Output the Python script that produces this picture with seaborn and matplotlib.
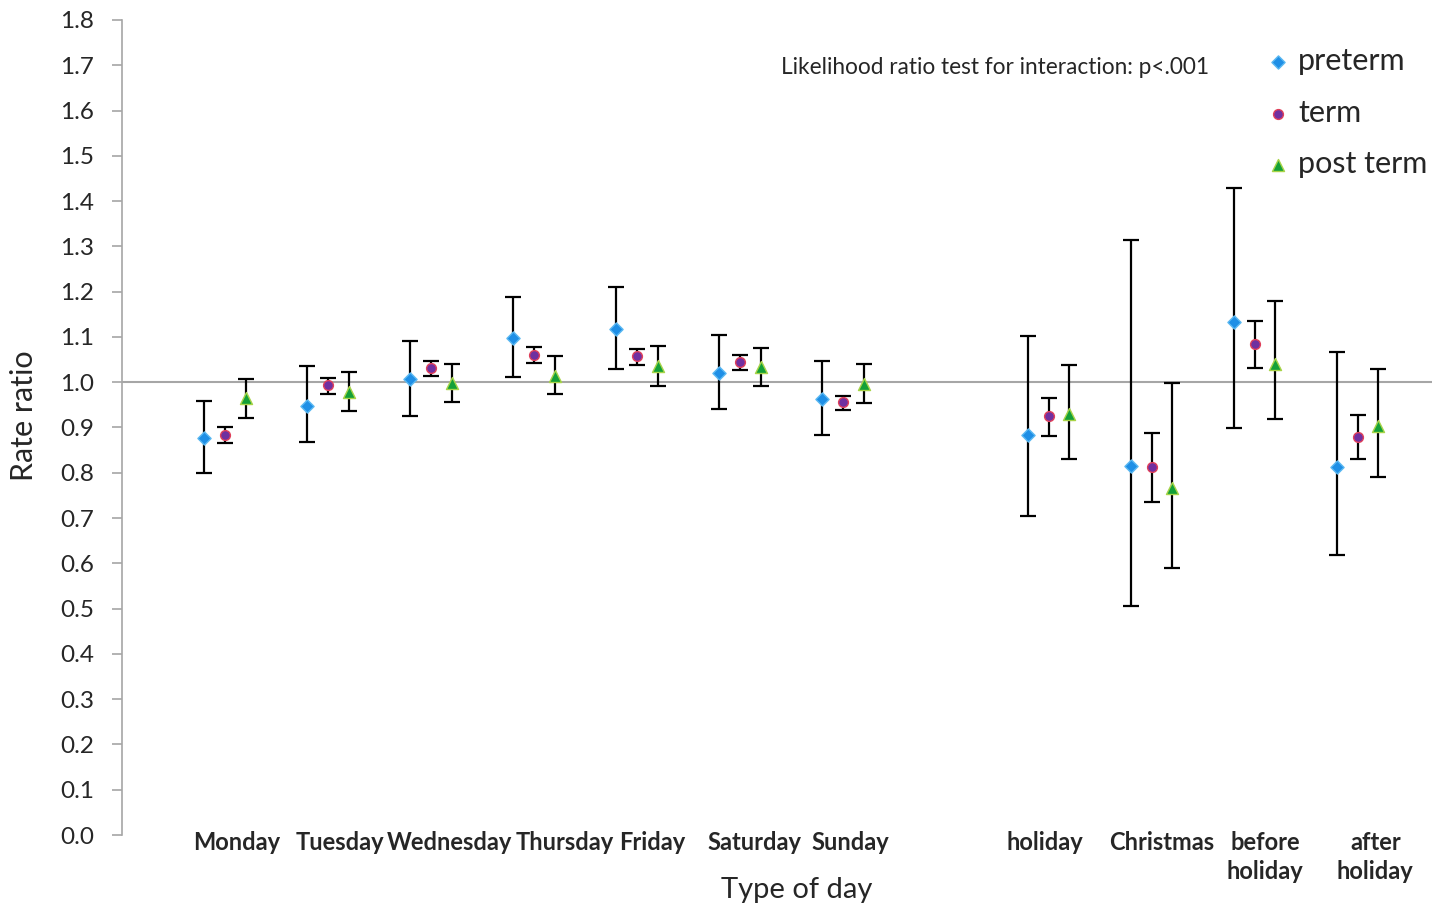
import pandas as pd
import matplotlib
matplotlib.use("Agg")
import matplotlib.pyplot as plt
import seaborn as sns

# ---------------------------------------------------------
# Data (rate ratios with 95% CI)
# ---------------------------------------------------------
days = ["Monday", "Tuesday", "Wednesday", "Thursday", "Friday", "Saturday",
        "Sunday", "holiday", "Christmas", "before\nholiday", "after\nholiday"]
day_pos = [0, 1, 2, 3, 4, 5, 6, 8, 9, 10, 11]
label_pos = [0.11, 1.12, 2.18, 3.30, 4.15, 5.14, 6.07, 7.96, 9.10, 10.10, 11.17]

preterm_rr = [0.877, 0.947, 1.007, 1.098, 1.117, 1.020, 0.963, 0.883, 0.815, 1.133, 0.813]
preterm_lo = [0.800, 0.868, 0.925, 1.011, 1.029, 0.941, 0.883, 0.705, 0.506, 0.899, 0.618]
preterm_hi = [0.958, 1.036, 1.091, 1.188, 1.210, 1.104, 1.047, 1.102, 1.314, 1.429, 1.067]

term_rr = [0.883, 0.994, 1.031, 1.060, 1.058, 1.045, 0.956, 0.925, 0.813, 1.084, 0.879]
term_lo = [0.866, 0.974, 1.014, 1.042, 1.038, 1.027, 0.939, 0.881, 0.735, 1.031, 0.830]
term_hi = [0.900, 1.009, 1.047, 1.078, 1.073, 1.060, 0.970, 0.965, 0.888, 1.135, 0.928]

post_rr = [0.965, 0.978, 0.998, 1.014, 1.036, 1.034, 0.996, 0.930, 0.766, 1.040, 0.903]
post_lo = [0.921, 0.936, 0.956, 0.974, 0.992, 0.992, 0.954, 0.830, 0.590, 0.919, 0.791]
post_hi = [1.007, 1.022, 1.040, 1.058, 1.080, 1.075, 1.040, 1.038, 0.998, 1.179, 1.029]

groups = ["preterm", "term", "post term"]
offsets = {"preterm": -0.2, "term": 0.0, "post term": 0.2}
markers = {"preterm": "D", "term": "o", "post term": "^"}
face = {"preterm": "#1f8fe6", "term": "#7030a0", "post term": "#14a038"}
edge = {"preterm": "#5ab8f2", "term": "#e0405a", "post term": "#a8d448"}
sizes = {"preterm": 45, "term": 50, "post term": 75}

rows = []
for g, rr, lo, hi in [("preterm", preterm_rr, preterm_lo, preterm_hi),
                      ("term", term_rr, term_lo, term_hi),
                      ("post term", post_rr, post_lo, post_hi)]:
    for d, p, r, l, h in zip(days, day_pos, rr, lo, hi):
        rows.append({"day": d, "group": g, "x": p + offsets[g],
                     "rr": r, "lo": l, "hi": h})
df = pd.DataFrame(rows)

# ---------------------------------------------------------
# Plot
# ---------------------------------------------------------
sns.set_theme(style="white")
plt.rcParams["font.family"] = ["Lato", "DejaVu Sans"]

fig = plt.figure(figsize=(14.46, 9.05), dpi=100)
ax = fig.add_axes([122 / 1446, 1 - 835 / 905, 1310 / 1446, 815 / 905])

ax.axhline(1.0, color="#a6a6a6", lw=1.5, zorder=1)

for g in groups:
    sub = df[df["group"] == g]
    ax.errorbar(sub["x"], sub["rr"],
                yerr=[sub["rr"] - sub["lo"], sub["hi"] - sub["rr"]],
                fmt="none", ecolor="black", elinewidth=1.6,
                capsize=6, capthick=1.6, zorder=2)
    sns.scatterplot(data=sub, x="x", y="rr", marker=markers[g], color=face[g],
                    edgecolor=edge[g], linewidth=1.0, s=sizes[g],
                    label=g, ax=ax, zorder=3)

ax.set_xlim(-1.0, 11.72)
ax.set_ylim(0, 1.8)
ax.set_yticks([i / 10 for i in range(19)])
ax.set_yticklabels([f"{i / 10:.1f}" for i in range(19)], fontsize=17.5)
ax.set_xticks(label_pos)
ax.set_xticklabels(days, fontsize=17, fontweight="bold", linespacing=1.3)

ax.tick_params(axis="y", direction="out", length=7, width=1.2,
               color="#a6a6a6", pad=13, left=True)
ax.tick_params(axis="x", length=0, pad=-3)

for s in ["top", "right", "bottom"]:
    ax.spines[s].set_visible(False)
ax.spines["left"].set_color("#a6a6a6")
ax.spines["left"].set_linewidth(1.2)

ax.set_xlabel("Type of day", fontsize=21)
ax.xaxis.set_label_coords(0.515, -0.067)
ax.xaxis.label.set_va("center")
ax.set_ylabel("Rate ratio", fontsize=22)
ax.yaxis.set_label_coords(-0.075, 0.515)
ax.yaxis.label.set_va("center")

ax.text(781 / 1446, 1 - 67 / 905, "Likelihood ratio test for interaction: p<.001",
        transform=fig.transFigure, fontsize=16.3, ha="left", va="center")

ax.legend(loc="upper left", bbox_to_anchor=(1266 / 1446, 1 - 47 / 905),
          bbox_transform=fig.transFigure, frameon=False, fontsize=22,
          borderaxespad=0, borderpad=0, handlelength=0.8, handletextpad=0.25,
          labelspacing=0.77)

fig.savefig("out.png", dpi=100)
